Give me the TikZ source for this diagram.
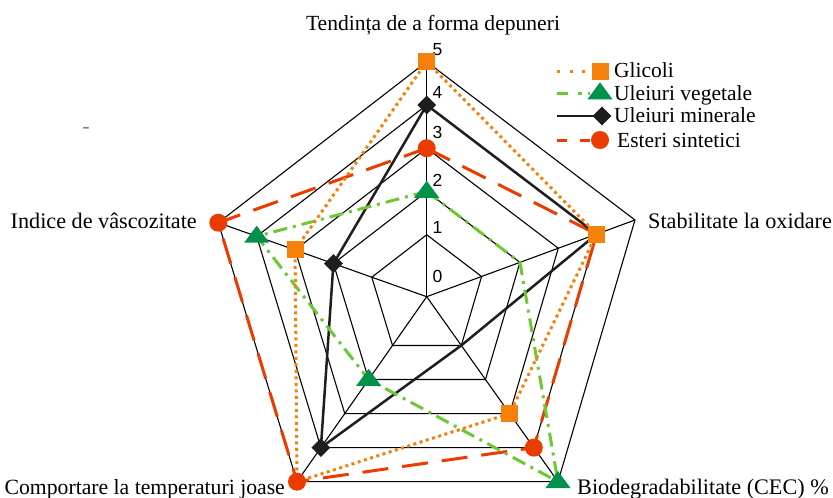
\documentclass[tikz,border=0pt]{standalone}
\usepackage{fontspec}
\setmainfont{Liberation Serif}
\newfontfamily\numfont{Liberation Sans}
\usepackage{xcolor}
\usetikzlibrary{calc, shapes.geometric}
\definecolor{glicol}{RGB}{245,128,10}
\definecolor{vegline}{RGB}{110,200,50}
\definecolor{vegmark}{RGB}{0,145,75}
\definecolor{mineral}{RGB}{30,30,30}
\definecolor{ester}{RGB}{235,60,0}
\tikzset{
  grid/.style={black, line width=1.1pt},
  glline/.style={glicol, line width=3pt, dash pattern=on 3pt off 3.5pt},
  vgline/.style={vegline, line width=3pt, dash pattern=on 14pt off 6pt on 3pt off 6pt},
  mnline/.style={mineral, line width=2.5pt},
  esline/.style={ester, line width=3pt, dash pattern=on 26pt off 14pt},
  glmark/.style={rectangle, fill=glicol, minimum size=17pt, inner sep=0pt},
  vgmark/.style={isosceles triangle, isosceles triangle stretches, shape border rotate=90,
    fill=vegmark, minimum width=25pt, minimum height=17pt, inner sep=0pt},
  mnmark/.style={diamond, fill=mineral, minimum width=19pt, minimum height=19pt, inner sep=0pt},
  esmark/.style={circle, fill=ester, minimum size=18pt, inner sep=0pt},
  axlbl/.style={font=\fontsize{22.2}{26}\selectfont, inner sep=0pt},
  lglbl/.style={font=\fontsize{21.5}{25}\selectfont, inner sep=0pt, anchor=base west},
  numlbl/.style={font=\numfont\fontsize{17.5}{20}\selectfont, inner sep=0pt, anchor=west},
}
% distance of a value along an axis (as a fraction of the outer ring)
\newcommand{\rad}[1]{0.0794+0.1841*#1}

\begin{document}
\begin{tikzpicture}[x=1pt, y=-1pt]
\fill[white] (0,0) rectangle (833,498);
\useasboundingbox (0,0) rectangle (833,498);

\coordinate (O) at (426.7,296.7);
\coordinate (tend) at (426.7,61.7);
\coordinate (stab) at (635,220);
\coordinate (bio) at (558,481.7);
\coordinate (comp) at (297,481.7);
\coordinate (vasc) at (218.3,222.7);

% grid
\foreach \k in {1,...,5}
  \draw[grid] ($(O)!\rad{\k}!(tend)$) -- ($(O)!\rad{\k}!(stab)$) -- ($(O)!\rad{\k}!(bio)$)
    -- ($(O)!\rad{\k}!(comp)$) -- ($(O)!\rad{\k}!(vasc)$) -- cycle;
\foreach \a in {tend,stab,bio,comp,vasc}
  \draw[grid] (O) -- (\a);

\foreach \k/\y in {0/276,1/227,2/180,3/132,4/92,5/50}
  \node[numlbl] (n\k) at (432.5,\y) {\k};

% series
\foreach \a/\v [count=\i] in {tend/5,stab/4,bio/3,comp/5,vasc/3}
  \coordinate (g\i) at ($(O)!\rad{\v}!(\a)$);
\foreach \a/\v [count=\i] in {tend/2,stab/2,bio/5,comp/2,vasc/4}
  \coordinate (v\i) at ($(O)!\rad{\v}!(\a)$);
\foreach \a/\v [count=\i] in {tend/4,stab/4,bio/1,comp/4,vasc/2}
  \coordinate (m\i) at ($(O)!\rad{\v}!(\a)$);
\foreach \a/\v [count=\i] in {tend/3,stab/4,bio/4,comp/5,vasc/5}
  \coordinate (e\i) at ($(O)!\rad{\v}!(\a)$);

\draw[esline] (e1)--(e2)--(e3)--(e4)--(e5)--cycle;
\draw[mnline] (m1)--(m2)--(m3)--(m4)--(m5)--cycle;
\draw[vgline] (v1)--(v2)--(v3)--(v4)--(v5)--cycle;
\draw[glline] (g1)--(g2)--(g3)--(g4)--(g5)--cycle;

\foreach \i in {1,3,4,5} \node[vgmark] (vm\i) at (v\i) {};
\foreach \i in {1,4,5} \node[mnmark] (mm\i) at (m\i) {};
\foreach \i in {1,3,4,5} \node[esmark] (em\i) at (e\i) {};
\foreach \i in {1,2,3,5} \node[glmark] (gm\i) at (g\i) {};

% axis labels
\node[axlbl, anchor=base, font=\fontsize{21.6}{26}\selectfont] (ltend) at (433,30) {Tendința de a forma depuneri};
\node[axlbl, anchor=base west] (lstab) at (648,228.5) {Stabilitate la oxidare};
\node[axlbl, anchor=base west] (lbio) at (577,494) {Biodegradabilitate (CEC) \%};
\node[axlbl, anchor=base east, font=\fontsize{21.7}{26}\selectfont] (lcomp) at (285,494) {Comportare la temperaturi joase};
\node[axlbl, anchor=base east] (lvasc) at (197,228.5) {Indice de vâscozitate};
\node[axlbl, gray] (dash) at (86,130) {-};

% legend
\coordinate (la1) at (557,71);
\coordinate (la2) at (557,93);
\coordinate (la3) at (557,116);
\coordinate (la4) at (557,140);
\draw[glline, dash pattern=on 3pt off 9.5pt] (la1) -- (600,71);
\draw[vgline, dash pattern=on 11pt off 10pt on 4pt off 6pt] (la2) -- (590,93);
\draw[mnline] (la3) -- (600,116);
\draw[esline, dash pattern=on 10pt off 13pt] (la4) -- (592,140);
\node[glmark] (lm1) at (600,71) {};
\node[vgmark] (lm2) at (600,93) {};
\node[mnmark] (lm3) at (602,116) {};
\node[esmark] (lm4) at (600,140) {};
\node[lglbl] (lt1) at (614,77) {Glicoli};
\node[lglbl] (lt2) at (614,100) {Uleiuri vegetale};
\node[lglbl] (lt3) at (614,122) {Uleiuri minerale};
\node[lglbl] (lt4) at (617,147) {Esteri sintetici};

\end{tikzpicture}
\end{document}
